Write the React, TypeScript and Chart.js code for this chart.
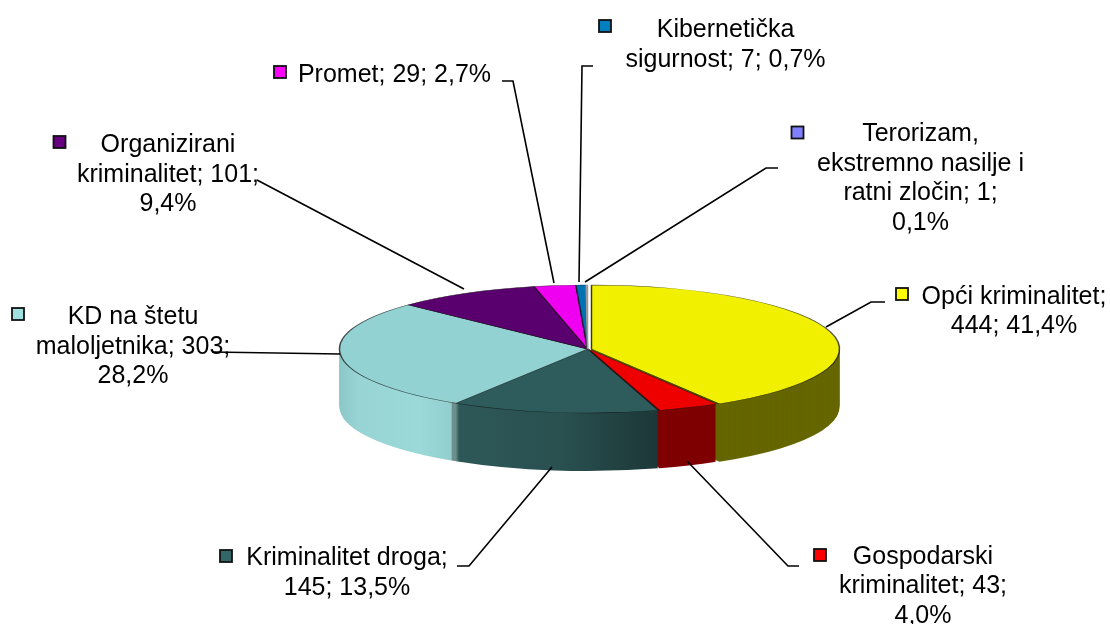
import React, { useEffect, useRef } from "react";
import { Chart, registerables } from "chart.js";

Chart.register(...registerables);

const categories = ["Opći kriminalitet", "Gospodarski kriminalitet", "Kriminalitet droga", "KD na štetu maloljetnika", "Organizirani kriminalitet", "Promet", "Kibernetička sigurnost", "Terorizam, ekstremno nasilje i ratni zločin"];
const values = [444, 43, 145, 303, 101, 29, 7, 1];
const topColors = ["#F0F000", "#EE0000", "#2E5C5C", "#93D2D2", "#5A006E", "#F000F0", "#0072B4", "#FFFFFF"];
const keyColors = ["#FFFF00", "#FF0000", "#336666", "#A0E0E0", "#660080", "#FF00FF", "#0080C0", "#8080FF"];
const labelLines = [
  ["Opći kriminalitet;", "444; 41,4%"],
  ["Gospodarski", "kriminalitet; 43;", "4,0%"],
  ["Kriminalitet droga;", "145; 13,5%"],
  ["KD na štetu", "maloljetnika; 303;", "28,2%"],
  ["Organizirani", "kriminalitet; 101;", "9,4%"],
  ["Promet; 29; 2,7%"],
  ["Kibernetička", "sigurnost; 7; 0,7%"],
  ["Terorizam,", "ekstremno nasilje i", "ratni zločin; 1;", "0,1%"],
];

const CX = 587.5, CY = 349, R = 248, RY = 64, DEPTH = 58;
const EXPLODE = [4, 1, 0, 0, 0, 0, 0, 0];
const LINE_H = 29.5;
const labelPos = [
  { x: 1014, y: 303.5, kx: 902, ky: 294 },
  { x: 923, y: 563.5, kx: 820, ky: 555 },
  { x: 347, y: 565, kx: 226, ky: 556 },
  { x: 133, y: 324, kx: 18, ky: 314 },
  { x: 168, y: 152, kx: 59.5, ky: 142 },
  { x: 394.5, y: 82, kx: 280, ky: 72 },
  { x: 725.5, y: 37, kx: 605, ky: 26 },
  { x: 920.5, y: 141, kx: 797.5, ky: 132.5 },
];
const leaders = [
  [[885, 302], [871, 302], [826, 327]],
  [[799, 566], [788, 566], [687, 461]],
  [[457, 566], [469, 566], [552, 467]],
  [[212, 352], [340, 354]],
  [[257, 180], [464, 289]],
  [[502, 81], [513, 81], [554, 283]],
  [[593, 66], [582, 66], [579, 282]],
  [[778, 168], [766, 168], [585, 282]],
];

const pie3d = {
  id: "pie3d",
  beforeDatasetsDraw(chart: any) {
    const ctx: CanvasRenderingContext2D = chart.ctx;
    const arcs: any[] = chart.getDatasetMeta(0).data;
    const cx0 = arcs[0].x, cy0 = arcs[0].y;
    const shift = CX - cx0; // gradients live in the arc's own coordinates
    const grad = (stops: [number, string][]) => {
      const g = ctx.createLinearGradient(340 - shift, 0, 840 - shift, 0);
      stops.forEach(([x, c]) => g.addColorStop((x - 340) / 500, c));
      return g;
    };
    const sideColors: any[] = [
      "#666600",
      "#7F0000",
      grad([[458, "#2E5858"], [560, "#2A5050"], [655, "#1D3838"]]),
      grad([[340, "#8CC8C8"], [358, "#98D4D4"], [420, "#9BD8D8"], [451, "#92CECE"], [452.5, "#6E8E8E"], [458, "#6E8E8E"]]),
      "#40004F", "#A000A0", "#005080", "#FFFFFF",
    ];
    const k = RY / R;
    const drawArc = (arc: any, i: number, dy: number, fill: any, border: number) => {
      const saved = arc.options;
      arc.options = { ...saved, backgroundColor: fill, borderWidth: border, borderColor: i === 7 ? "#999999" : "rgba(20,20,20,0.75)" };
      ctx.save();
      ctx.translate(CX + EXPLODE[i], CY + dy);
      ctx.scale(1, k);
      ctx.translate(-cx0, -cy0);
      arc.draw(ctx);
      ctx.restore();
      arc.options = saved;
    };
    for (let dy = DEPTH; dy >= 1; dy--) {
      arcs.forEach((arc, i) => drawArc(arc, i, dy, sideColors[i], 0));
    }
    arcs.forEach((arc, i) => drawArc(arc, i, 0, topColors[i], 1.5));
    return false;
  },
  afterDraw(chart: any) {
    const ctx: CanvasRenderingContext2D = chart.ctx;
    ctx.save();
    ctx.strokeStyle = "#000000";
    ctx.lineWidth = 1.6;
    leaders.forEach((pts) => {
      ctx.beginPath();
      pts.forEach(([x, y], i) => (i ? ctx.lineTo(x, y) : ctx.moveTo(x, y)));
      ctx.stroke();
    });
    ctx.font = '25px "Liberation Sans", Arial, sans-serif';
    ctx.fillStyle = "#000000";
    ctx.textAlign = "center";
    ctx.textBaseline = "alphabetic";
    labelLines.forEach((lines, i) => {
      const p = labelPos[i];
      lines.forEach((t, j) => ctx.fillText(t, p.x, p.y + j * LINE_H));
      ctx.fillStyle = keyColors[i];
      ctx.fillRect(p.kx - 6, p.ky - 6, 12, 12);
      ctx.strokeStyle = "#111111";
      ctx.lineWidth = 1.8;
      ctx.strokeRect(p.kx - 6, p.ky - 6, 12, 12);
      ctx.fillStyle = "#000000";
    });
    ctx.restore();
  },
};

export default function App() {
  const ref = useRef<HTMLCanvasElement>(null);
  useEffect(() => {
    const chart = new Chart(ref.current as HTMLCanvasElement, {
      type: "pie",
      data: {
        labels: categories,
        datasets: [{ data: values, backgroundColor: topColors, borderWidth: 0 }],
      },
      options: {
        responsive: false,
        animation: false,
        radius: R,
        rotation: 0,
        plugins: { legend: { display: false }, tooltip: { enabled: false }, title: { display: false } },
      } as any,
      plugins: [pie3d as any],
    });
    return () => chart.destroy();
  }, []);
  return (
    <div style={{ position: "absolute", left: 0, top: 0, width: 1110, height: 624, background: "#fff" }}>
      <canvas ref={ref} width={1110} height={624} style={{ display: "block" }} />
    </div>
  );
}
